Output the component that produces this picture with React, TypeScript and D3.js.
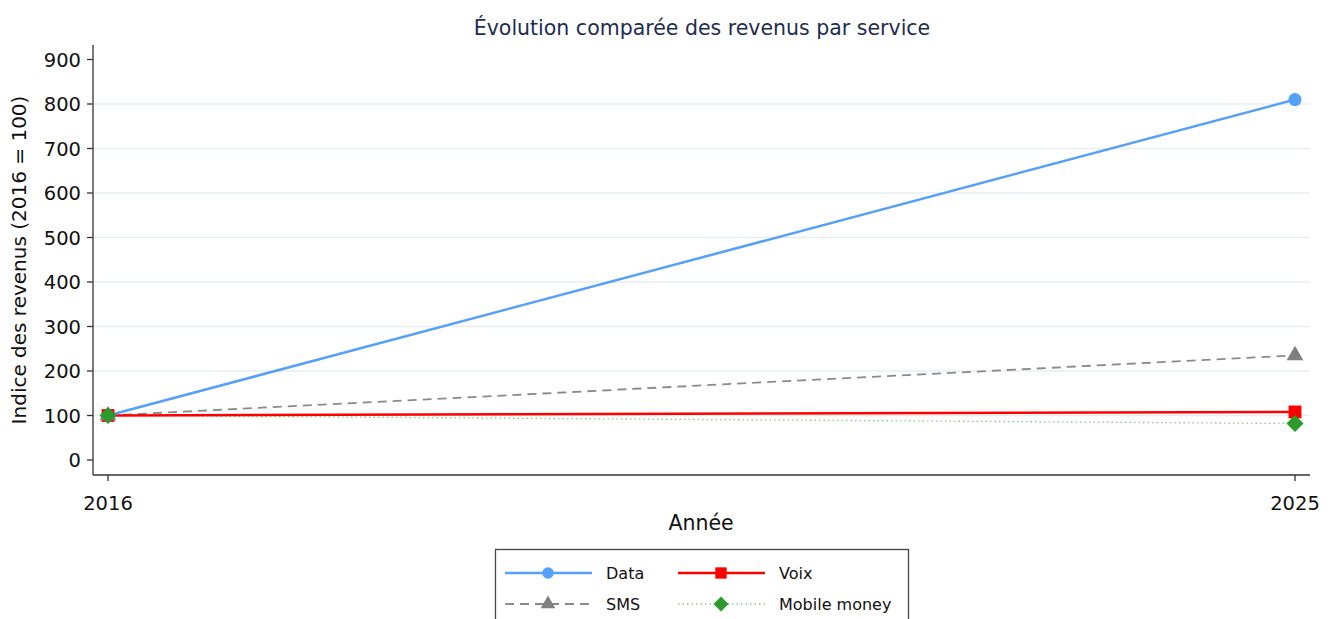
import React from 'react';
import * as d3 from 'd3';

const years = [2016, 2025];
const seriesNames = ['Data', 'Voix', 'SMS', 'Mobile money'];
const dataValues = [100, 810];
const voixValues = [100, 108];
const smsValues = [100, 235];
const mobileValues = [100, 82];
const yTicks = [0, 100, 200, 300, 400, 500, 600, 700, 800, 900];

const W = 1335;
const H = 619;
const FONT = '"DejaVu Sans", sans-serif';

const styles = [
  { name: seriesNames[0], values: dataValues, color: '#55a0f8', dash: null, width: 2.5, marker: 'circle', mcolor: '#55a0f8' },
  { name: seriesNames[1], values: voixValues, color: '#ff0000', dash: null, width: 2.5, marker: 'square', mcolor: '#ff0000' },
  { name: seriesNames[2], values: smsValues, color: '#8a8a8a', dash: '9,6', width: 1.8, marker: 'triangle', mcolor: '#808080' },
  { name: seriesNames[3], values: mobileValues, color: '#7fcf7f', dash: '1.5,3', width: 1.3, marker: 'diamond', mcolor: '#2c9a2c' },
];

function Marker({ type, x, y, color, k = 1 }: { type: string; x: number; y: number; color: string; k?: number }) {
  if (type === 'diamond') {
    const r = 8.5 * k;
    return <path d={`M0,${-r}L${r},0L0,${r}L${-r},0Z`} transform={`translate(${x},${y})`} fill={color} />;
  }
  const sym =
    type === 'circle' ? d3.symbolCircle :
    type === 'square' ? d3.symbolSquare : d3.symbolTriangle;
  const size = (type === 'circle' ? 135 : type === 'square' ? 165 : 120) * k * k;
  const path = d3.symbol().type(sym).size(size)() as string;
  return <path d={path} transform={`translate(${x},${y})`} fill={color} />;
}

export default function App() {
  const left = 93, right = 1310, top = 45, bottom = 475;
  const x = d3.scaleLinear().domain([2016, 2025]).range([108, 1295]);
  const y = d3.scaleLinear().domain([0, 900]).range([460, 59.5]);
  const line = d3.line<number>().x((_, i) => x(years[i])).y(d => y(d));

  return (
    <svg width={W} height={H} style={{ position: 'absolute', left: 0, top: 0, background: '#fff' }} fontFamily={FONT}>
      <rect x={0} y={0} width={W} height={H} fill="#fff" />
      {/* title */}
      <text x={702} y={35} textAnchor="middle" fontSize={20.5} fill="#1e2d4f">Évolution comparée des revenus par service</text>

      {/* gridlines */}
      {yTicks.filter(t => t > 0 && t < 900).map(t => (
        <line key={t} x1={left + 1} x2={right} y1={y(t)} y2={y(t)} stroke="#e6eef2" strokeWidth={1.3} />
      ))}

      {/* axes */}
      <line x1={left} x2={left} y1={top} y2={bottom} stroke="#333" strokeWidth={1.3} />
      <line x1={left} x2={right} y1={bottom} y2={bottom} stroke="#333" strokeWidth={1.3} />
      {yTicks.map(t => (
        <g key={t}>
          <line x1={left - 6} x2={left} y1={y(t)} y2={y(t)} stroke="#333" strokeWidth={1.3} />
          <text x={left - 12} y={y(t)} dy="0.36em" textAnchor="end" fontSize={19.5} fill="#111">{t}</text>
        </g>
      ))}
      {years.map(yr => (
        <g key={yr}>
          <line x1={x(yr)} x2={x(yr)} y1={bottom} y2={bottom + 6} stroke="#333" strokeWidth={1.3} />
          <text x={x(yr)} y={510} textAnchor="middle" fontSize={19.5} fill="#111">{yr}</text>
        </g>
      ))}
      <text x={701} y={530} textAnchor="middle" fontSize={20.5} fill="#111">Année</text>
      <text transform={`translate(26,260) rotate(-90)`} textAnchor="middle" fontSize={20} fill="#111">Indice des revenus (2016 = 100)</text>

      {/* series lines */}
      {[...styles].reverse().map(s => (
        <path key={s.name} d={line(s.values) as string} fill="none" stroke={s.color} strokeWidth={s.width}
          strokeDasharray={s.dash ?? undefined} />
      ))}
      {styles.map(s => s.values.map((v, i) => (
        <Marker key={s.name + i} type={s.marker} x={x(years[i])} y={y(v)} color={s.mcolor} />
      )))}

      {/* legend */}
      <rect x={495.5} y={549.5} width={413} height={80} fill="#fff" stroke="#444" strokeWidth={1.3} />
      {styles.map((s, i) => {
        const col = i % 2, row = Math.floor(i / 2);
        const lx = 505 + col * 173, ly = 573 + row * 31;
        return (
          <g key={s.name}>
            <line x1={lx} x2={lx + 87} y1={ly} y2={ly} stroke={s.color} strokeWidth={s.width}
              strokeDasharray={s.dash ?? undefined} />
            <Marker type={s.marker} x={lx + 43} y={ly} color={s.mcolor} k={0.88} />
            <text x={lx + 101} y={ly} dy="0.36em" fontSize={16} fill="#111">{s.name}</text>
          </g>
        );
      })}
    </svg>
  );
}
